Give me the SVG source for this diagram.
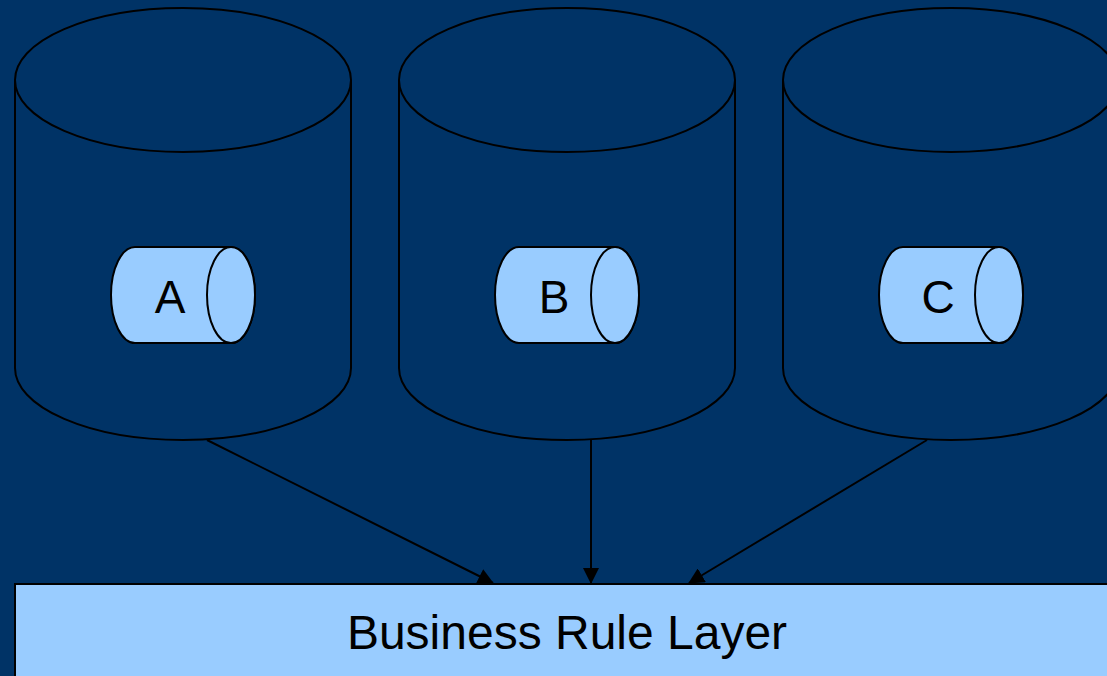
<svg xmlns="http://www.w3.org/2000/svg" width="1107" height="676" viewBox="0 0 1107 676">
<defs>
<style>
.big{fill:#003366;stroke:#000;stroke-width:2}
.sm{fill:#99CCFF;stroke:#000;stroke-width:2}
.lbl{font-family:"Liberation Sans",Arial,sans-serif;fill:#000;text-anchor:middle}
.con{stroke:#000;stroke-width:2;fill:none}
</style>
<marker id="ah" markerWidth="16" markerHeight="16" refX="15" refY="8" orient="auto" markerUnits="userSpaceOnUse">
<path d="M0,0 L16,8 L0,16 Z" fill="#000"/>
</marker>
</defs>
<rect width="1107" height="676" fill="#003366"/>
<g id="dbA">
<path class="big" d="M15,80 L15,368 A168,72 0 0 0 351,368 L351,80"/>
<ellipse class="big" cx="183" cy="80" rx="168" ry="72"/>
<path class="sm" d="M135,247 L231,247 A24,48 0 0 1 231,343 L135,343 A24,48 0 0 1 135,247 Z"/>
<ellipse class="sm" cx="231" cy="295" rx="24" ry="48"/>
<text class="lbl" x="170" y="313" font-size="46">A</text>
</g>
<g id="dbB">
<path class="big" d="M399,80 L399,368 A168,72 0 0 0 735,368 L735,80"/>
<ellipse class="big" cx="567" cy="80" rx="168" ry="72"/>
<path class="sm" d="M519,247 L615,247 A24,48 0 0 1 615,343 L519,343 A24,48 0 0 1 519,247 Z"/>
<ellipse class="sm" cx="615" cy="295" rx="24" ry="48"/>
<text class="lbl" x="554" y="313" font-size="46">B</text>
</g>
<g id="dbC">
<path class="big" d="M783,80 L783,368 A168,72 0 0 0 1119,368 L1119,80"/>
<ellipse class="big" cx="951" cy="80" rx="168" ry="72"/>
<path class="sm" d="M903,247 L999,247 A24,48 0 0 1 999,343 L903,343 A24,48 0 0 1 903,247 Z"/>
<ellipse class="sm" cx="999" cy="295" rx="24" ry="48"/>
<text class="lbl" x="938" y="313" font-size="46">C</text>
</g>
<g id="layer">
<rect x="15" y="584" width="1110" height="110" fill="#99CCFF" stroke="#000" stroke-width="2"/>
<text class="lbl" x="567" y="649" font-size="48">Business Rule Layer</text>
</g>
<g id="connectors">
<line class="con" x1="207" y1="440" x2="493" y2="583" marker-end="url(#ah)"/>
<line class="con" x1="591" y1="440" x2="591" y2="583" marker-end="url(#ah)"/>
<line class="con" x1="927" y1="440" x2="689" y2="583" marker-end="url(#ah)"/>
</g>
</svg>
